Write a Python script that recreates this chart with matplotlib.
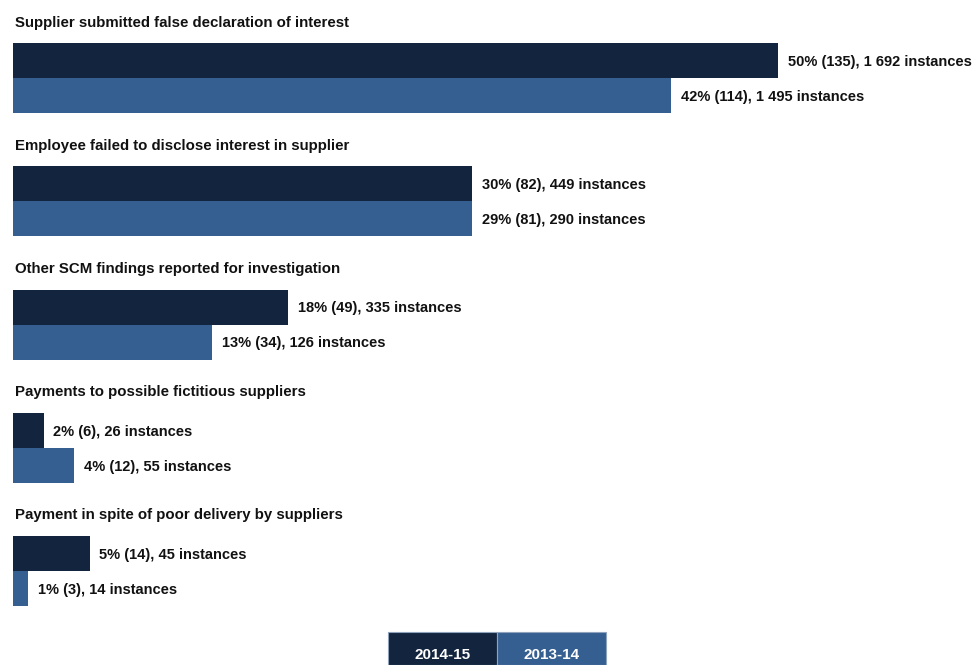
import matplotlib
matplotlib.use("Agg")
import matplotlib.pyplot as plt
from matplotlib.patches import Rectangle

categories = [
    "Supplier submitted false declaration of interest",
    "Employee failed to disclose interest in supplier",
    "Other SCM findings reported for investigation",
    "Payments to possible fictitious suppliers",
    "Payment in spite of poor delivery by suppliers",
]
series_names = ["2014-15", "2013-14"]
pct_2014_15 = [50, 30, 18, 2, 5]
pct_2013_14 = [43, 30, 13, 4, 1]
labels_2014_15 = [
    "50% (135), 1 692 instances",
    "30% (82), 449 instances",
    "18% (49), 335 instances",
    "2% (6), 26 instances",
    "5% (14), 45 instances",
]
labels_2013_14 = [
    "42% (114), 1 495 instances",
    "29% (81), 290 instances",
    "13% (34), 126 instances",
    "4% (12), 55 instances",
    "1% (3), 14 instances",
]

colors = ["#12243E", "#365F91"]
FONT = ["Liberation Sans", "DejaVu Sans"]

W, H = 979, 665
fig = plt.figure(figsize=(W / 100, H / 100), dpi=100)
ax = fig.add_axes([0, 0, 1, 1])

px_per_x = 15.3
left_px = 13
ax.set_xlim(-left_px / px_per_x, (W - left_px) / px_per_x)
pitch = 123.25
bar_h = 35 / pitch
top_center = 60.5
ax.set_ylim((H - top_center) / pitch, -top_center / pitch)
ax.axis("off")

for i, (cat, v1, v2, l1, l2) in enumerate(zip(categories, pct_2014_15, pct_2013_14,
                                               labels_2014_15, labels_2013_14)):
    y1 = i
    y2 = i + bar_h
    ax.barh(y1, v1, height=bar_h, color=colors[0], left=0)
    ax.barh(y2, v2, height=bar_h, color=colors[1], left=0)
    ax.annotate(l1, (v1, y1), xytext=(7, -1), textcoords="offset points",
                ha="left", va="center", fontsize=10.5, fontweight="bold",
                family=FONT, color="#111111")
    ax.annotate(l2, (v2, y2), xytext=(7, -1), textcoords="offset points",
                ha="left", va="center", fontsize=10.5, fontweight="bold",
                family=FONT, color="#111111")
    ax.text(0.1, i - 38 / pitch, cat, ha="left", va="center", fontsize=10.8,
            fontweight="bold", family=FONT, color="#111111")

# legend boxes
lx0, lw, ly0, lh = 388, 109, 0, 33
for k, name in enumerate(series_names):
    x = (lx0 + k * lw) / W
    fig.patches.append(Rectangle((x, ly0 / H), lw / W, lh / H, transform=fig.transFigure,
                                 facecolor=colors[k], edgecolor="#8fa3bd", linewidth=0.8))
    fig.text(x + lw / W / 2, (ly0 + 10) / H, name, ha="center", va="center",
             color="white", fontsize=11, fontweight="bold", family=FONT)

fig.savefig("out.png", dpi=100)
